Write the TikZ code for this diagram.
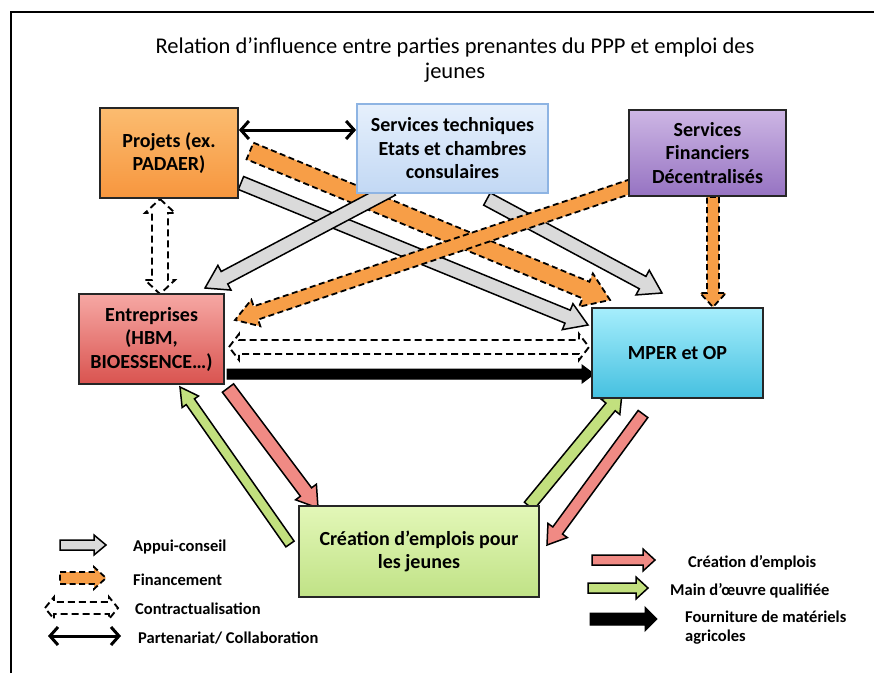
\documentclass[tikz,border=0pt]{standalone}
\usepackage{fontspec}
\setmainfont{Carlito}
\usetikzlibrary{calc,arrows.meta,shadows}

\definecolor{projT}{HTML}{FBBC70}
\definecolor{projB}{HTML}{F7963E}
\definecolor{stT}{HTML}{E6F0FC}
\definecolor{stB}{HTML}{C2D8F4}
\definecolor{stD}{HTML}{8EB4E3}
\definecolor{sfdT}{HTML}{CDB6E4}
\definecolor{sfdB}{HTML}{9673C2}
\definecolor{entT}{HTML}{F6A8A4}
\definecolor{entB}{HTML}{D9534F}
\definecolor{mpT}{HTML}{A6EEFC}
\definecolor{mpB}{HTML}{45C0E0}
\definecolor{crT}{HTML}{E3F7B8}
\definecolor{crB}{HTML}{C0E286}
\definecolor{grayF}{HTML}{DADADA}
\definecolor{orF}{HTML}{F79E47}
\definecolor{redF}{HTML}{F08A84}
\definecolor{grnF}{HTML}{C2E07E}

% single-headed block arrow: style, from, to, shaft half width, head half width, head length
\newcommand{\barrow}[6]{%
  \path (#3) coordinate (tmpB) ($(#3)!#6!(#2)$) coordinate (tmpH);
  \draw[#1] ($(#2)!#4!90:(#3)$) -- ($(tmpH)!#4!90:(tmpB)$) -- ($(tmpH)!#5!90:(tmpB)$) -- (tmpB)
    -- ($(tmpH)!#5!-90:(tmpB)$) -- ($(tmpH)!#4!-90:(tmpB)$) -- ($(#2)!#4!-90:(#3)$) -- cycle;}
% double-headed block arrow
\newcommand{\dbarrow}[6]{%
  \path (#2) coordinate (tmpA) (#3) coordinate (tmpB)
    ($(#2)!#6!(#3)$) coordinate (tmpHa) ($(#3)!#6!(#2)$) coordinate (tmpHb);
  \draw[#1] (tmpA) -- ($(tmpHa)!#5!90:(tmpB)$) -- ($(tmpHa)!#4!90:(tmpB)$) -- ($(tmpHb)!#4!90:(tmpB)$)
    -- ($(tmpHb)!#5!90:(tmpB)$) -- (tmpB) -- ($(tmpHb)!#5!-90:(tmpB)$) -- ($(tmpHb)!#4!-90:(tmpB)$)
    -- ($(tmpHa)!#4!-90:(tmpB)$) -- ($(tmpHa)!#5!-90:(tmpB)$) -- cycle;}

\tikzset{
  box/.style={draw=black!85, line width=1.8pt, align=center, inner sep=0pt,
    font=\bfseries\fontsize{20pt}{23.5pt}\selectfont},
  grayarr/.style={draw=black, line width=1.5pt, fill=grayF, line join=miter},
  orarr/.style={draw=black, line width=1.8pt, fill=orF, dash pattern=on 6pt off 3.5pt},
  contrarr/.style={draw=black, line width=1.9pt, fill=white, dash pattern=on 7pt off 4pt},
  redarr/.style={draw=black, line width=1.5pt, fill=redF},
  grnarr/.style={draw=black, line width=1.5pt, fill=grnF},
  blkarr/.style={draw=black, line width=1pt, fill=black},
  partner/.style={line width=3pt, {Straight Barb[length=8pt,width=18pt]}-{Straight Barb[length=8pt,width=18pt]}},
  legtext/.style={anchor=west, inner sep=0pt, font=\bfseries\fontsize{16.5pt}{19pt}\selectfont},
}

\begin{document}
\begin{tikzpicture}[x=1pt,y=-1pt]
\useasboundingbox (0,0) rectangle (878,673);
\fill[white] (0,0) rectangle (878,673);
\draw[line width=1.5pt] (11,673) -- (11,12) -- (874,12);

\node[align=center, inner sep=0pt, font=\fontsize{22.5pt}{25pt}\selectfont] (title) at (455,60)
  {Relation d’influence entre parties prenantes du PPP et emploi des\\jeunes};

% arrow end points
\coordinate (oPa) at (250,151);  \coordinate (oPb) at (610,300);
\coordinate (gPa) at (241,183);  \coordinate (gPb) at (588,325);
\coordinate (gSa) at (487,199);  \coordinate (gSb) at (662,293);
\coordinate (gEa) at (392,189);  \coordinate (gEb) at (205,288);
\coordinate (oEa) at (632,186);  \coordinate (oEb) at (235,320);
\coordinate (oMa) at (713,197);  \coordinate (oMb) at (713,307);
\coordinate (cVa) at (160,199);  \coordinate (cVb) at (160,294);
\coordinate (cHa) at (229,347);  \coordinate (cHb) at (589,347);
\coordinate (bHa) at (227,374);  \coordinate (bHb) at (594,374);
\coordinate (rEa) at (228,388);  \coordinate (rEb) at (318,508);
\coordinate (gnEa) at (290,544); \coordinate (gnEb) at (180,387);
\coordinate (gnMa) at (529,506); \coordinate (gnMb) at (622,393);
\coordinate (rMa) at (643,414);  \coordinate (rMb) at (547,545);

\barrow{orarr}{oPa}{oPb}{9pt}{18pt}{26pt}
\barrow{grayarr}{gPa}{gPb}{7pt}{14pt}{22pt}
\barrow{grayarr}{gSa}{gSb}{7pt}{14pt}{22pt}
\barrow{orarr}{oEa}{oEb}{7pt}{14pt}{22pt}
\barrow{grayarr}{gEa}{gEb}{7pt}{14pt}{22pt}
\barrow{orarr}{oMa}{oMb}{6pt}{13pt}{14pt}
\dbarrow{contrarr}{cVa}{cVb}{8pt}{15pt}{14pt}
\dbarrow{contrarr}{cHa}{cHb}{7pt}{13pt}{10pt}
\barrow{blkarr}{bHa}{bHb}{5pt}{9pt}{12pt}
\barrow{redarr}{rEa}{rEb}{7pt}{13pt}{20pt}
\barrow{grnarr}{gnEa}{gnEb}{5pt}{10pt}{18pt}
\barrow{grnarr}{gnMa}{gnMb}{6pt}{12pt}{18pt}
\barrow{redarr}{rMa}{rMb}{6pt}{12pt}{18pt}

% boxes
\node[box, minimum width=138pt, minimum height=90pt, top color=projT, bottom color=projB] (proj) at (169,153) {Projets (ex.\\PADAER)};
\node[box, draw=stD, minimum width=191pt, minimum height=89pt, top color=stT, bottom color=stB] (st) at (452.5,148.5) {Services techniques\\Etats et chambres\\consulaires};
\node[box, minimum width=157pt, minimum height=86pt, top color=sfdT, bottom color=sfdB] (sfd) at (707.5,153) {Services\\Financiers\\Décentralisés};
\node[box, minimum width=145pt, minimum height=90pt, top color=entT, bottom color=entB] (ent) at (151.5,339) {Entreprises\\(HBM,\\BIOESSENCE…)};
\node[box, minimum width=171pt, minimum height=90pt, top color=mpT, bottom color=mpB] (mper) at (677.5,353) {MPER et OP};
\node[box, minimum width=240pt, minimum height=91pt, top color=crT, bottom color=crB] (crea) at (419,551.5) {Création d’emplois pour\\les jeunes};

\draw[partner] (proj.east |- 0,130) coordinate (pp1) -- (st.west |- 0,130) coordinate (pp2);

% legend left
\coordinate (l1a) at (60,545);  \coordinate (l1b) at (106,545);
\coordinate (l2a) at (60,578);  \coordinate (l2b) at (106,578);
\coordinate (l3a) at (45,608);  \coordinate (l3b) at (118,608);
\coordinate (l4a) at (48,636);  \coordinate (l4b) at (121,636);
\barrow{grayarr}{l1a}{l1b}{5pt}{10pt}{12pt}
\barrow{orarr}{l2a}{l2b}{6pt}{11pt}{12pt}
\dbarrow{contrarr}{l3a}{l3b}{6pt}{11pt}{9pt}
\draw[partner] (l4a) -- (l4b);
\node[legtext] (t1) at (133,547) {Appui-conseil};
\node[legtext] (t2) at (133,580) {Financement};
\node[legtext] (t3) at (135,609) {Contractualisation};
\node[legtext] (t4) at (138,638) {Partenariat/ Collaboration};

% legend right
\coordinate (r1a) at (592,560); \coordinate (r1b) at (655,560);
\coordinate (r2a) at (588,588); \coordinate (r2b) at (648,588);
\coordinate (r3a) at (590,619); \coordinate (r3b) at (657,619);
\barrow{redarr}{r1a}{r1b}{5pt}{11pt}{12pt}
\barrow{grnarr}{r2a}{r2b}{5pt}{11pt}{12pt}
\barrow{blkarr}{r3a}{r3b}{6pt}{12pt}{12pt}
\node[legtext] (t5) at (688,563) {Création d’emplois};
\node[legtext] (t6) at (670,591) {Main d’œuvre qualifiée};
\node[legtext, align=left] (t7) at (685,628) {Fourniture de matériels\\agricoles};
\end{tikzpicture}
\end{document}
